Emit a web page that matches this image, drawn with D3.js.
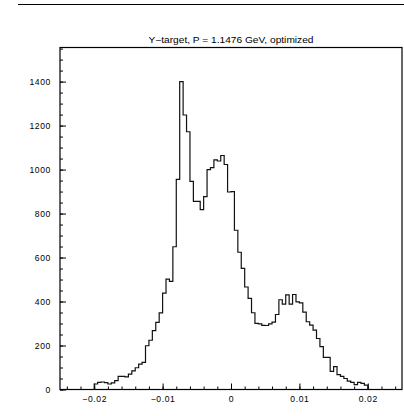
<!DOCTYPE html>
<html>
<head>
<meta charset="utf-8">
<script src="https://cdn.jsdelivr.net/npm/d3@7"></script>
<style>
  html, body { margin: 0; padding: 0; background: #fff; }
  svg { display: block; }
  text { font-family: "Liberation Sans", Arial, Helvetica, sans-serif; fill: #000; }
</style>
</head>
<body>
<svg id="chart" width="404" height="416"></svg>
<script>
// Histogram of the Y position at the target: 80 bins from -0.02 to 0.02
const binLow = -0.02;
const binWidth = 0.0005;
const counts = [
  25, 32, 34, 31, 25, 30, 40, 60, 60, 57,
  70, 85, 99, 115, 123, 199, 224, 268, 305, 348,
  438, 502, 492, 649, 955, 1400, 1248, 1172, 946, 855,
  855, 818, 877, 1000, 1009, 1044, 1039, 1064, 1023, 898,
  900, 724, 624, 551, 466, 414, 349, 301, 298, 292,
  291, 298, 306, 341, 408, 388, 430, 388, 432, 398,
  394, 352, 308, 293, 270, 232, 195, 146, 146, 82,
  104, 68, 60, 50, 38, 32, 22, 32, 28, 20
];

const titleText = "Y\u2212target, P = 1.1476 GeV, optimized";
const xMajorTicks = [-0.02, -0.01, 0, 0.01, 0.02];
const xTickLabels = ["\u22120.02", "\u22120.01", "0", "0.01", "0.02"];
const yMajorTicks = [0, 200, 400, 600, 800, 1000, 1200, 1400];
const yMinorTicks = d3.range(0, 1551, 50);
const xMinorTicks = d3.range(-24, 25, 2).map(v => v / 1000);

const svg = d3.select("#chart");
const frame = { left: 60, right: 402, top: 47.5, bottom: 389.5 };

const x = d3.scaleLinear().domain([-0.025, 0.025]).range([frame.left, frame.right]);
const y = d3.scaleLinear().domain([0, 1555]).range([frame.bottom, frame.top]);

// rule across the top of the page
svg.append("line")
  .attr("x1", 18).attr("x2", 404).attr("y1", 4.5).attr("y2", 4.5)
  .attr("stroke", "#000").attr("stroke-width", 1.2);

// title
svg.append("text")
  .attr("x", 231).attr("y", 43)
  .attr("text-anchor", "middle")
  .attr("font-size", 8.6)
  .attr("textLength", 165)
  .attr("lengthAdjust", "spacingAndGlyphs")
  .text(titleText);

// bottom axis: major and minor ticks pointing into the frame
const xAxisMajor = d3.axisBottom(x)
  .tickValues(xMajorTicks)
  .tickSize(-6)
  .tickPadding(6.5)
  .tickFormat((d, i) => xTickLabels[i]);
const xAxisMinor = d3.axisBottom(x)
  .tickValues(xMinorTicks)
  .tickSize(-3)
  .tickFormat("");

const gxMinor = svg.append("g").attr("transform", `translate(0,${frame.bottom})`).call(xAxisMinor);
const gx = svg.append("g").attr("transform", `translate(0,${frame.bottom})`).call(xAxisMajor);
[gx, gxMinor].forEach(g => {
  g.select(".domain").remove();
  g.selectAll("line").attr("stroke", "#000").attr("stroke-width", 1);
});
gx.selectAll("text")
  .attr("font-size", 8.6)
  .attr("letter-spacing", 0.6)
  .attr("fill", "#000");

// left axis
const yAxisMajor = d3.axisLeft(y)
  .tickValues(yMajorTicks)
  .tickSize(-6)
  .tickPadding(9)
  .tickFormat(d3.format("d"));
const yAxisMinor = d3.axisLeft(y)
  .tickValues(yMinorTicks)
  .tickSize(-3)
  .tickFormat("");

const gyMinor = svg.append("g").attr("transform", `translate(${frame.left},0)`).call(yAxisMinor);
const gy = svg.append("g").attr("transform", `translate(${frame.left},0)`).call(yAxisMajor);
[gy, gyMinor].forEach(g => {
  g.select(".domain").remove();
  g.selectAll("line").attr("stroke", "#000").attr("stroke-width", 1);
});
gy.selectAll("text")
  .attr("font-size", 8.6)
  .attr("letter-spacing", 0.6)
  .attr("fill", "#000");

// frame
svg.append("rect")
  .attr("x", frame.left).attr("y", frame.top)
  .attr("width", frame.right - frame.left)
  .attr("height", frame.bottom - frame.top)
  .attr("fill", "none")
  .attr("stroke", "#000")
  .attr("stroke-width", 1.2);

// histogram outline drawn as steps
const pts = [[binLow, 0]];
counts.forEach((c, i) => {
  const lo = binLow + i * binWidth;
  pts.push([lo, c]);
  pts.push([lo + binWidth, c]);
});
pts.push([binLow + counts.length * binWidth, 0]);

svg.append("path")
  .datum(pts)
  .attr("fill", "none")
  .attr("stroke", "#111")
  .attr("stroke-width", 1.2)
  .attr("d", d3.line().x(d => x(d[0])).y(d => y(d[1])));
</script>
</body>
</html>
